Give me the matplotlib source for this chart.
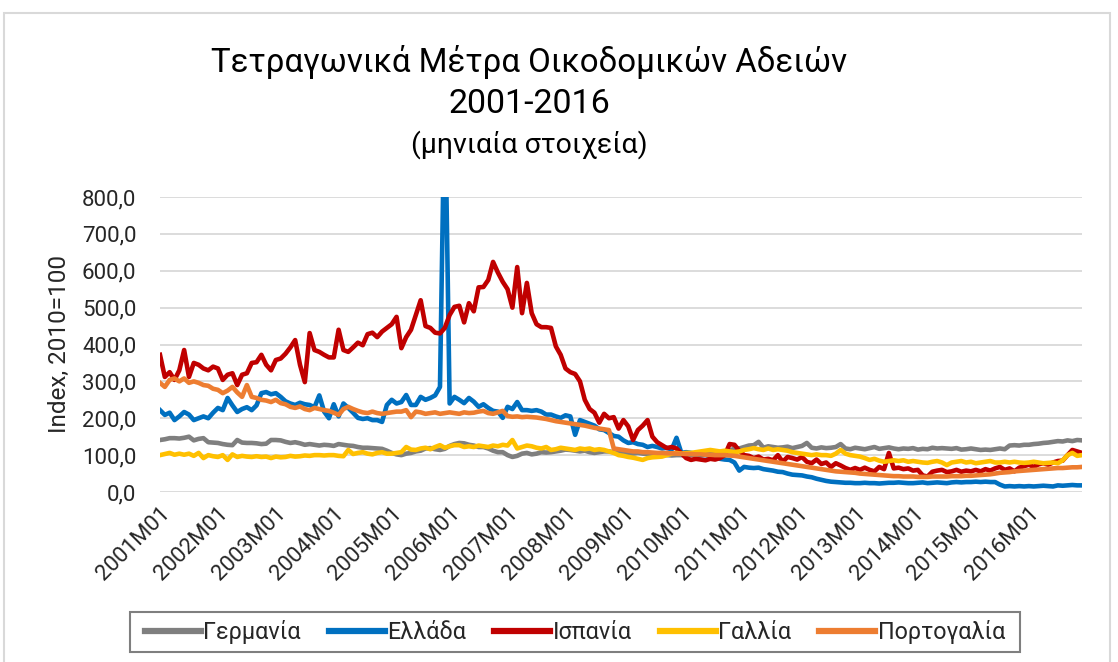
import numpy as np
import matplotlib
matplotlib.use("Agg")
import matplotlib.pyplot as plt
from matplotlib.patches import Rectangle

plt.rcParams["font.family"] = ["Roboto", "DejaVu Sans"]

# monthly categories 2001M01 .. 2016M12
YEARS = list(range(2001, 2017))
MONTHS = ["%dM%02d" % (y, m) for y in YEARS for m in range(1, 13)]

# index 2010=100, one row per year
germany = [
    141, 143, 146, 146, 145, 147, 150, 140, 144, 146, 135, 134,
    133, 130, 128, 127, 141, 134, 133, 133, 132, 130, 131, 141,
    141, 140, 136, 133, 135, 132, 128, 130, 128, 126, 128, 127,
    125, 130, 128, 126, 125, 122, 120, 120, 119, 118, 117, 112,
    106, 102, 100, 104, 106, 110, 112, 118, 119, 116, 114, 117,
    125, 130, 133, 132, 128, 126, 122, 122, 118, 112, 108, 108,
    100, 95, 98, 104, 106, 102, 104, 108, 107, 108, 110, 112,
    115, 114, 112, 110, 112, 108, 106, 108, 110, 110, 108, 106,
    104, 102, 104, 106, 104, 103, 102, 100, 101, 100, 99, 100,
    100, 98, 100, 101, 100, 102, 104, 106, 108, 110, 112, 118,
    118, 122, 126, 127, 136, 120, 124, 122, 120, 121, 123, 119,
    122, 125, 133, 120, 118, 121, 119, 120, 122, 130, 118, 116,
    120, 118, 116, 119, 122, 117, 119, 121, 118, 116, 118, 117,
    119, 115, 117, 116, 120, 118, 119, 118, 117, 119, 115, 116,
    118, 116, 114, 115, 114, 116, 118, 116, 126, 127, 126, 128,
    128, 130, 131, 133, 134, 136, 138, 137, 140, 138, 141, 140,
]
greece = [
    222, 209, 215, 195, 205, 217, 210, 195, 200, 205, 200, 215,
    228, 222, 255, 235, 217, 225, 230, 222, 235, 268, 271, 265,
    268, 258, 246, 240, 236, 242, 238, 236, 230, 262, 218, 200,
    238, 205, 240, 228, 215, 201, 198, 200, 195, 195, 190, 236,
    250, 240, 244, 263, 236, 236, 258, 250, 255, 262, 285, 1100,
    240, 258, 250, 241, 255, 245, 231, 238, 228, 220, 218, 201,
    231, 225, 244, 222, 222, 220, 222, 218, 210, 210, 205, 201,
    208, 205, 155, 195, 190, 185, 180, 170, 168, 160, 152, 150,
    140, 133, 135, 130, 128, 122, 125, 122, 118, 120, 115, 147,
    106, 108, 106, 104, 100, 100, 98, 95, 90, 88, 87, 80,
    58, 68, 66, 65, 66, 62, 60, 58, 55, 54, 50, 47,
    46, 45, 42, 40, 36, 33, 30, 28, 27, 26, 25, 25,
    24, 24, 25, 24, 24, 23, 24, 25, 25, 26, 25, 24,
    24, 25, 26, 24, 25, 26, 25, 24, 26, 27, 26, 27,
    27, 28, 27, 28, 27, 27, 20, 15, 16, 15, 16, 15,
    16, 15, 16, 17, 16, 15, 18, 17, 18, 19, 18, 18,
]
spain = [
    372, 312, 325, 304, 330, 385, 312, 350, 345, 335, 330, 340,
    335, 304, 318, 322, 290, 318, 322, 350, 352, 372, 345, 330,
    358, 362, 375, 392, 412, 345, 298, 431, 385, 380, 372, 365,
    365, 440, 385, 380, 392, 405, 398, 428, 432, 420, 435, 445,
    455, 475, 390, 420, 440, 480, 520, 450, 445, 432, 430, 445,
    480, 502, 505, 460, 512, 490, 555, 556, 575, 624, 595, 570,
    550, 500, 610, 485, 567, 485, 455, 447, 447, 445, 395, 372,
    335, 325, 320, 300, 250, 225, 215, 188, 212, 200, 203, 172,
    195, 178, 141, 168, 180, 195, 150, 135, 127, 119, 122, 118,
    105, 92, 87, 90, 88, 86, 90, 88, 92, 100, 130, 128,
    112, 100, 98, 92, 96, 88, 90, 86, 100, 82, 95, 92,
    88, 95, 82, 78, 88, 76, 80, 68, 78, 72, 65, 60,
    65, 60, 66, 60, 56, 68, 62, 106, 64, 66, 62, 64,
    58, 60, 45, 42, 55, 58, 60, 54, 56, 60, 55, 58,
    56, 60, 56, 62, 58, 64, 68, 60, 64, 56, 66, 70,
    74, 68, 75, 78, 74, 80, 84, 85, 100, 114, 110, 106,
]
france = [
    100, 103, 106, 101, 104, 101, 104, 98, 106, 92, 100, 97,
    95, 100, 87, 102, 95, 98, 96, 95, 97, 95, 96, 92,
    96, 94, 95, 98, 96, 97, 99, 98, 100, 100, 99, 100,
    100, 98, 97, 114, 103, 106, 108, 104, 102, 106, 108, 104,
    104, 106, 108, 122, 115, 114, 118, 120, 116, 122, 127, 120,
    124, 127, 127, 122, 124, 122, 126, 124, 122, 126, 124, 128,
    126, 141, 118, 122, 126, 124, 120, 118, 122, 114, 116, 120,
    118, 116, 114, 118, 116, 118, 114, 116, 114, 110, 106, 100,
    98, 95, 93, 90, 87, 92, 94, 95, 96, 100, 104, 106,
    104, 106, 106, 108, 110, 112, 114, 112, 110, 112, 110, 108,
    110, 114, 116, 119, 116, 114, 118, 114, 116, 114, 112, 108,
    106, 104, 102, 100, 102, 100, 100, 98, 104, 114, 104, 100,
    98, 96, 92, 87, 90, 85, 82, 84, 86, 84, 86, 82,
    84, 82, 80, 79, 82, 84, 80, 73, 80, 82, 84, 80,
    82, 78, 80, 82, 84, 80, 80, 82, 80, 82, 80, 79,
    80, 82, 80, 78, 79, 80, 78, 86, 100, 106, 98, 100,
]
portugal = [
    296, 285, 304, 308, 300, 308, 296, 300, 296, 290, 288, 280,
    277, 268, 275, 285, 270, 258, 290, 258, 255, 250, 248, 244,
    250, 241, 238, 231, 228, 232, 225, 222, 228, 225, 222, 220,
    215, 209, 225, 231, 225, 220, 216, 214, 218, 214, 212, 214,
    216, 218, 218, 222, 203, 218, 216, 212, 214, 216, 212, 214,
    216, 214, 212, 216, 214, 215, 218, 220, 214, 212, 216, 220,
    206, 204, 205, 203, 204, 203, 202, 200, 198, 195, 192, 190,
    188, 186, 184, 182, 180, 177, 174, 172, 170, 168, 118, 116,
    114, 112, 110, 110, 108, 108, 107, 106, 106, 105, 105, 104,
    104, 103, 103, 102, 102, 101, 101, 100, 100, 100, 99, 98,
    96, 94, 92, 90, 88, 86, 84, 82, 80, 78, 76, 74,
    72, 70, 68, 66, 64, 62, 60, 58, 56, 55, 54, 53,
    52, 50, 49, 48, 47, 46, 45, 44, 43, 43, 42, 42,
    42, 41, 41, 41, 42, 42, 42, 42, 43, 43, 43, 44,
    44, 45, 46, 47, 48, 50, 52, 53, 54, 56, 57, 58,
    59, 60, 61, 62, 63, 64, 65, 65, 66, 67, 67, 68,
]

SERIES = [("Γερμανία", germany, "#7F7F7F"),
          ("Ελλάδα", greece, "#0070C0"),
          ("Ισπανία", spain, "#C00000"),
          ("Γαλλία", france, "#FFC000"),
          ("Πορτογαλία", portugal, "#ED7D31")]
YTICKS = [0, 100, 200, 300, 400, 500, 600, 700, 800]

W, H = 1118, 662
fig = plt.figure(figsize=(W / 100, H / 100), dpi=100)
ax = fig.add_axes([160 / W, 1 - 492 / H, (1082 - 160) / W, (492 - 197) / H])

x = np.arange(len(MONTHS))
for name, vals, col in SERIES:
    ax.plot(x, vals, color=col, lw=3.3, label=name, solid_joinstyle="round")

ax.set_xlim(0, len(MONTHS) - 1)
ax.set_ylim(0, 800)
ax.set_yticks(YTICKS)
ax.set_yticklabels(["%d,0" % v for v in YTICKS])
ax.set_xticks(x[::12])
ax.set_xticklabels(MONTHS[::12], rotation=45, ha="right", va="top",
                   rotation_mode="anchor")
ax.tick_params(axis="both", length=0, labelsize=16, colors="#262626")
ax.tick_params(axis="y", pad=17)
ax.tick_params(axis="x", pad=8)
ax.grid(axis="y", color="#D9D9D9", lw=1.3)
ax.set_axisbelow(True)
for s in ax.spines.values():
    s.set_visible(False)

fig.text(59 / W, 1 - 344 / H, "Index, 2010=100", rotation=90, fontsize=17.5,
         ha="center", va="center", color="#262626")

fig.text(529 / W, 1 - 72 / H, "Τετραγωνικά Μέτρα Οικοδομικών Αδειών",
         fontsize=23.8, ha="center", va="baseline")
fig.text(529 / W, 1 - 113 / H, "2001-2016", fontsize=24.5, ha="center", va="baseline")
fig.text(529 / W, 1 - 153 / H, "(μηνιαία στοιχεία)", fontsize=20.5,
         ha="center", va="baseline")

# legend entries without frame, frame drawn separately
leg = fig.legend(loc="center", bbox_to_anchor=(575 / W, 1 - 632 / H), ncol=5,
                 fontsize=16.8, frameon=False, handlelength=2.4,
                 handletextpad=0.1, columnspacing=1.2)
for t in leg.get_texts():
    t.set_color("#262626")
for h in leg.legend_handles:
    h.set_linewidth(4.5)
fig.patches.append(Rectangle((130 / W, 1 - 652 / H), (1020 - 130) / W, 40 / H,
                             transform=fig.transFigure, fill=False,
                             edgecolor="#7F7F7F", lw=1.5))

fig.patches.append(Rectangle((4 / W, -0.05), (1110 - 4) / W, 1.05 - 13 / H,
                             transform=fig.transFigure, fill=False,
                             edgecolor="#D9D9D9", lw=1.5))

fig.savefig("out.png", dpi=100)
